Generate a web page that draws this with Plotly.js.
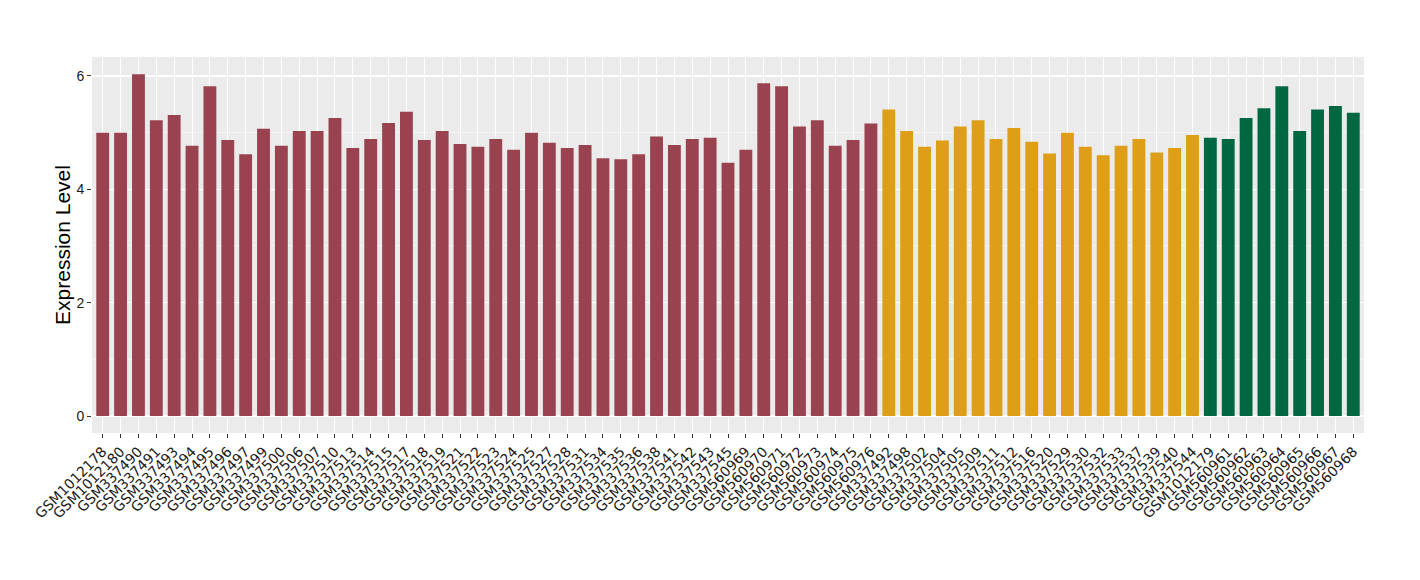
<!DOCTYPE html>
<html><head><meta charset="utf-8">
<script src="https://cdn.plot.ly/plotly-3.0.1.min.js"></script>
<style>html,body{margin:0;padding:0;background:#fff}#chart{width:1420px;height:580px}</style>
</head><body><div id="chart"></div>
<script>
const samples = ["GSM1012178","GSM1012180","GSM337490","GSM337491","GSM337493","GSM337494","GSM337495","GSM337496","GSM337497","GSM337499","GSM337500","GSM337506","GSM337507","GSM337510","GSM337513","GSM337514","GSM337515","GSM337517","GSM337518","GSM337519","GSM337521","GSM337522","GSM337523","GSM337524","GSM337525","GSM337527","GSM337528","GSM337531","GSM337534","GSM337535","GSM337536","GSM337538","GSM337541","GSM337542","GSM337543","GSM337545","GSM560969","GSM560970","GSM560971","GSM560972","GSM560973","GSM560974","GSM560975","GSM560976","GSM337492","GSM337498","GSM337502","GSM337504","GSM337505","GSM337509","GSM337511","GSM337512","GSM337516","GSM337520","GSM337529","GSM337530","GSM337532","GSM337533","GSM337537","GSM337539","GSM337540","GSM337544","GSM1012179","GSM560961","GSM560962","GSM560963","GSM560964","GSM560965","GSM560966","GSM560967","GSM560968"];
const values = [5.00,5.00,6.03,5.22,5.31,4.77,5.82,4.87,4.62,5.07,4.77,5.03,5.03,5.26,4.73,4.89,5.17,5.37,4.87,5.03,4.80,4.75,4.89,4.70,5.00,4.82,4.73,4.78,4.55,4.53,4.62,4.93,4.78,4.89,4.91,4.47,4.70,5.87,5.82,5.11,5.22,4.77,4.87,5.16,5.41,5.03,4.75,4.86,5.11,5.22,4.89,5.08,4.84,4.63,5.00,4.75,4.60,4.77,4.89,4.65,4.73,4.96,4.91,4.89,5.26,5.43,5.82,5.03,5.41,5.47,5.35];
const groups = ["A","A","A","A","A","A","A","A","A","A","A","A","A","A","A","A","A","A","A","A","A","A","A","A","A","A","A","A","A","A","A","A","A","A","A","A","A","A","A","A","A","A","A","A","B","B","B","B","B","B","B","B","B","B","B","B","B","B","B","B","B","B","C","C","C","C","C","C","C","C","C"];
const groupColors = {A:"#9A4350", B:"#DE9E18", C:"#006840"};

const trace = {
  type: "bar",
  x: samples,
  y: values,
  marker: {color: groups.map(g => groupColors[g]), line: {width: 0}},
  width: 0.72,
  hoverinfo: "x+y"
};

const layout = {
  width: 1420, height: 580,
  margin: {l: 92, r: 56, t: 57, b: 147},
  paper_bgcolor: "#ffffff",
  plot_bgcolor: "#EBEBEB",
  showlegend: false,
  font: {family: "Liberation Sans, Arial, sans-serif", color: "#333333"},
  xaxis: {
    type: "category",
    range: [-0.6, 70.6],
    tickangle: -45,
    tickfont: {size: 14, color: "#1a1a1a", family: "DejaVu Sans, sans-serif"},
    showgrid: true, gridcolor: "#ffffff", gridwidth: 1,
    ticks: "outside", ticklen: 4, tickcolor: "#333333",
    zeroline: false, showline: false
  },
  yaxis: {
    range: [-0.3, 6.335],
    tickvals: [0, 2, 4, 6],
    ticktext: ["0", "2", "4", "6"],
    tickfont: {size: 14, color: "#1a1a1a"},
    showgrid: true, gridcolor: "#ffffff", gridwidth: 1.2,
    minor: {tickvals: [1, 3, 5], showgrid: true, gridcolor: "#ffffff", gridwidth: 0.5, ticks: ""},
    ticks: "outside", ticklen: 4, tickcolor: "#333333",
    zeroline: false, showline: false,
    title: {text: "Expression Level", font: {size: 21, color: "#000000"}, standoff: 0}
  }
};

Plotly.newPlot("chart", [trace], layout, {displayModeBar: false, staticPlot: true});
</script>
</body></html>
